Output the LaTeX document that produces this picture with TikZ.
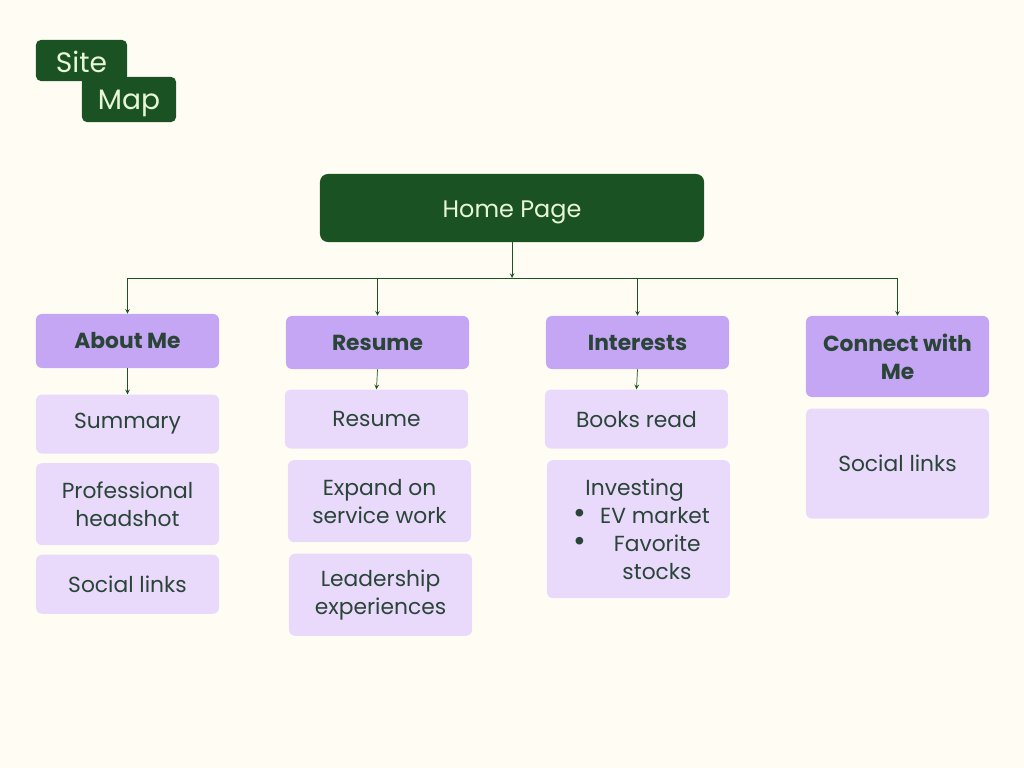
\documentclass[tikz,border=0pt]{standalone}
\usepackage{fontspec}
\setmainfont{Poppins}
\usepackage{xcolor}
\usetikzlibrary{arrows, positioning}

\definecolor{pagebg}{HTML}{FFFDF3}
\definecolor{forest}{HTML}{1B5224}
\definecolor{lavender}{HTML}{C4A6F4}
\definecolor{lilac}{HTML}{E9DAFC}
\definecolor{inkgreen}{HTML}{2A4438}
\definecolor{mint}{HTML}{E8F6D8}

\begin{document}
\begin{tikzpicture}[
    x=0.025cm, y=-0.025cm,
    node distance=0.225cm,
    sitebox/.style={rectangle, rounded corners=0.12cm, fill=forest, text=mint,
      inner sep=0pt, text height=0.62cm, text depth=0.12cm,
      font=\fontsize{20}{24}\selectfont},
    homebox/.style={rectangle, rounded corners=0.2cm, fill=forest, text=mint,
      minimum width=9.6cm, minimum height=1.7cm, text height=0.6cm, text depth=0.15cm,
      font=\fontsize{17}{20}\selectfont},
    secbox/.style={rectangle, rounded corners=0.15cm, fill=lavender, text=inkgreen,
      minimum width=4.575cm, align=center, inner sep=0pt,
      font=\fontsize{15.5}{20}\selectfont\bfseries},
    subbox/.style={rectangle, rounded corners=0.15cm, fill=lilac, text=inkgreen,
      minimum width=4.575cm, align=center, inner sep=0pt,
      font=\fontsize{15.5}{20}\selectfont},
    arrow/.style={->, >=stealth, forest, line width=0.5pt}
]
\useasboundingbox[fill=pagebg] (0,0) rectangle (1024,768);

% logo
\node[sitebox, text height=0.72cm, minimum width=2.275cm, minimum height=1.025cm] (site) at (81.5,60.5) {Site};
\node[sitebox, minimum width=2.35cm, minimum height=1.125cm] (map) at (129,99.5) {Map};

% root
\node[homebox] (home) at (512,208) {Home Page};
\coordinate (bus) at (512,278);

% sections
\node[secbox, minimum height=1.35cm] (about) at (127.5,341) {About Me};
\node[secbox, minimum height=1.325cm] (resume) at (377.5,342.5) {Resume};
\node[secbox, minimum height=1.325cm] (interests) at (637.5,342.5) {Interests};
\node[secbox, minimum height=2.025cm] (connect) at (897.5,356.5) {Connect with\\Me};

% pages
\node[subbox, minimum height=1.475cm, below=0.65cm of about] (summary) {Summary};
\node[subbox, minimum height=2.05cm, below=of summary] (headshot) {Professional\\headshot};
\node[subbox, minimum height=1.475cm, below=of headshot] (aboutlinks) {Social links};

\node[subbox, minimum height=1.475cm, below=0.5cm of resume, xshift=-0.025cm] (resumepage) {Resume};
\node[subbox, minimum height=2.05cm, below=0.275cm of resumepage, xshift=0.075cm] (service) {Expand on\\service work};
\node[subbox, minimum height=2.05cm, below=0.275cm of service, xshift=0.025cm] (leadership) {Leadership\\experiences};

\node[subbox, minimum height=1.475cm, below=0.5cm of interests, xshift=-0.025cm] (books) {Books read};
\node[subbox, minimum height=3.45cm, below=0.275cm of books, xshift=0.05cm, align=left]
  (investing) {\hspace*{0.46cm}Investing\\\hspace*{0.15cm}{\fontsize{22}{20}\selectfont\textbullet}\hspace{0.36cm}EV market\\\hspace*{0.15cm}{\fontsize{22}{20}\selectfont\textbullet}\hspace{0.7cm}Favorite\\\hspace*{1.385cm}stocks};

\node[subbox, minimum height=2.75cm, below=0.275cm of connect] (connectlinks) {Social links};

% connectors
\draw[arrow] (home.south) -- (bus);
\draw[forest, line width=0.5pt] (about.north |- bus) -- (connect.north |- bus);
\draw[arrow] (about.north |- bus) -- (about.north);
\draw[arrow] (resume.north |- bus) -- (resume.north);
\draw[arrow] (interests.north |- bus) -- (interests.north);
\draw[arrow] (connect.north |- bus) -- (connect.north);
\draw[arrow] (about.south) -- (summary.north);
\draw[arrow] (resume.south) -- (resumepage.north);
\draw[arrow] (interests.south) -- (books.north);
\end{tikzpicture}
\end{document}
